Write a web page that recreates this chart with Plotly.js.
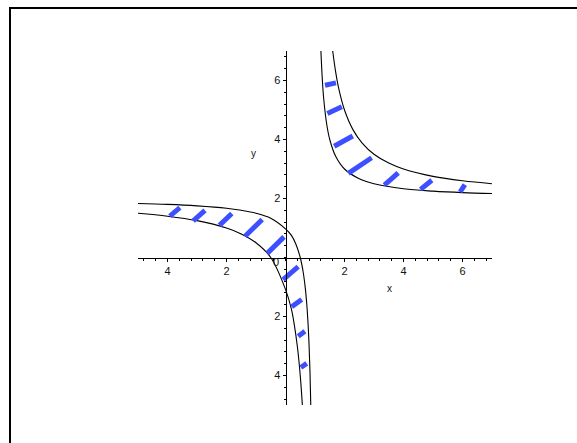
<!DOCTYPE html>
<html>
<head>
<meta charset="utf-8">
<script src="https://cdn.plot.ly/plotly-3.0.1.min.js"></script>
<style>
html,body{margin:0;padding:0;background:#fff;}
#chart{width:577px;height:443px;}
</style>
</head>
<body>
<div id="chart"></div>
<script>
// Curve A (upper curve on the left, inner curve on the right)
const curveA_left_x  = [-5, -4, -3, -2, -1.5, -1, -0.5, 0, 0.2, 0.35, 0.5, 0.6, 0.67, 0.72, 0.77, 0.8, 0.83, 0.857];
const curveA_left_y  = [1.83, 1.80, 1.75, 1.67, 1.60, 1.50, 1.33, 0.97, 0.75, 0.46, 0.0, -0.5, -1.03, -1.57, -2.35, -3.0, -3.88, -5.0];
const curveA_right_x = [1.2, 1.25, 1.3, 1.4, 1.5, 1.7, 2, 2.5, 3, 4, 5, 6, 7];
const curveA_right_y = [7.0, 6.0, 5.33, 4.5, 4.0, 3.43, 3.0, 2.67, 2.5, 2.33, 2.25, 2.2, 2.17];

// Curve B (lower curve on the left, outer curve on the right)
const curveB_left_x  = [-5, -4, -3, -2, -1.5, -1, -0.5, 0, 0.2, 0.3, 0.4, 0.47, 0.52, 0.571];
const curveB_left_y  = [1.5, 1.4, 1.25, 1.0, 0.8, 0.5, 0.0, -1.08, -1.75, -2.29, -3.0, -3.66, -4.25, -5.0];
const curveB_right_x = [1.6, 1.7, 1.8, 2, 2.3, 2.6, 3, 3.5, 4, 5, 6, 7];
const curveB_right_y = [7.0, 6.29, 5.75, 5.0, 4.31, 3.88, 3.5, 3.2, 3.0, 2.75, 2.6, 2.5];

// Blue dashes: start and end points
const dashX0 = [1.34, 1.42, 1.65, 2.13, 3.35, 4.58, 5.92, -3.92, -3.13, -2.24, -1.37, -0.62, -0.08, 0.21, 0.43, 0.52];
const dashY0 = [5.84, 4.88, 3.77, 2.85, 2.45, 2.31, 2.22, 1.40, 1.24, 1.09, 0.72, 0.14, -0.75, -1.67, -2.67, -3.73];
const dashX1 = [1.71, 1.91, 2.28, 2.92, 3.82, 4.96, 6.08, -3.58, -2.73, -1.82, -0.79, -0.05, 0.43, 0.55, 0.66, 0.72];
const dashY1 = [5.92, 5.11, 4.12, 3.38, 2.87, 2.62, 2.47, 1.69, 1.60, 1.49, 1.29, 0.70, -0.31, -1.42, -2.50, -3.59];

// Tick labels (Maple style: no minus signs shown)
const xTickVals = [-4, -2, 2, 4, 6];
const xTickText = ['4', '2', '2', '4', '6'];
const yTickVals = [-4, -2, 2, 4, 6];
const yTickText = ['4', '2', '2', '4', '6'];

const xRange = [-5, 7];
const yRange = [-5, 7];

// build dash trace with gaps
const dx = [], dy = [];
for (let i = 0; i < dashX0.length; i++) {
  dx.push(dashX0[i], dashX1[i], null);
  dy.push(dashY0[i], dashY1[i], null);
}

const curveLine = {color: '#000000', width: 1.1, shape: 'spline', smoothing: 1};
const traces = [
  {x: curveA_left_x, y: curveA_left_y, mode: 'lines', line: curveLine, hoverinfo: 'skip'},
  {x: curveA_right_x, y: curveA_right_y, mode: 'lines', line: curveLine, hoverinfo: 'skip'},
  {x: curveB_left_x, y: curveB_left_y, mode: 'lines', line: curveLine, hoverinfo: 'skip'},
  {x: curveB_right_x, y: curveB_right_y, mode: 'lines', line: curveLine, hoverinfo: 'skip'},
  {x: dx, y: dy, mode: 'lines', line: {color: '#3d50ff', width: 5}, connectgaps: false, hoverinfo: 'skip'}
];

const tickFont = {family: 'Liberation Sans, Arial, sans-serif', size: 11, color: '#111'};
const W = 354, H = 354, L = 138, T = 51;
function px2paperX(p) { return (p - L) / W; }
function px2paperY(p) { return 1 - (p - T) / H; }

const layout = {
  width: 577, height: 443,
  margin: {l: L, r: 577 - L - W, t: T, b: 443 - T - H, pad: 0},
  paper_bgcolor: '#ffffff', plot_bgcolor: '#ffffff',
  showlegend: false,
  xaxis: {
    range: xRange, anchor: 'free', position: (0 - yRange[0]) / (yRange[1] - yRange[0]),
    showline: true, linecolor: '#000', linewidth: 1, showgrid: false, zeroline: false,
    ticks: 'outside', ticklen: 3, tickwidth: 1, tickcolor: '#000',
    tickmode: 'array', tickvals: xTickVals, ticktext: xTickText, tickfont: tickFont,
    minor: {tickmode: 'linear', tick0: 0, dtick: 0.4, ticks: 'outside', ticklen: 2, tickcolor: '#000', showgrid: false},
    fixedrange: true
  },
  yaxis: {
    range: yRange, anchor: 'free', position: (0 - xRange[0]) / (xRange[1] - xRange[0]),
    showline: true, linecolor: '#000', linewidth: 1, showgrid: false, zeroline: false,
    ticks: 'outside', ticklen: 3, tickwidth: 1, tickcolor: '#000',
    tickmode: 'array', tickvals: yTickVals, ticktext: yTickText, tickfont: tickFont,
    minor: {tickmode: 'linear', tick0: 0, dtick: 0.4, ticks: 'outside', ticklen: 2, tickcolor: '#000', showgrid: false},
    fixedrange: true
  },
  annotations: [
    {text: 'x', x: 3.52, y: -1.05, xref: 'x', yref: 'y', showarrow: false, font: {family: 'Liberation Sans, Arial, sans-serif', size: 10, color: '#111'}},
    {text: 'y', x: -1.09, y: 3.53, xref: 'x', yref: 'y', showarrow: false, font: {family: 'Liberation Sans, Arial, sans-serif', size: 10, color: '#111'}},
    {text: '0', x: -0.32, y: -0.16, xref: 'x', yref: 'y', showarrow: false, font: tickFont}
  ],
  shapes: [
    {type: 'line', xref: 'paper', yref: 'paper', x0: px2paperX(10), x1: px2paperX(10), y0: px2paperY(7), y1: px2paperY(460), line: {color: '#000', width: 2}},
    {type: 'line', xref: 'paper', yref: 'paper', x0: px2paperX(9), x1: px2paperX(600), y0: px2paperY(8), y1: px2paperY(8), line: {color: '#000', width: 2}}
  ]
};

Plotly.newPlot('chart', traces, layout, {staticPlot: true, displayModeBar: false});
</script>
</body>
</html>
